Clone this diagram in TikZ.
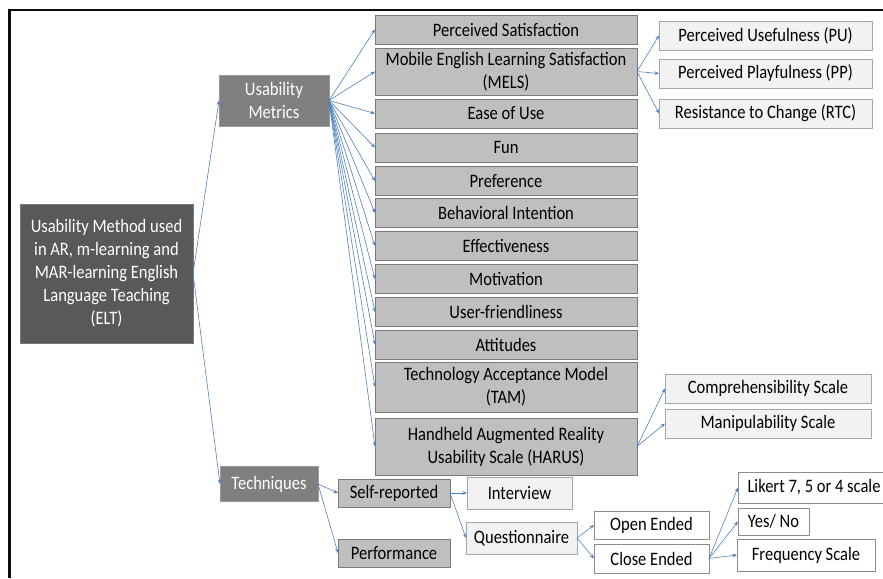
\documentclass[tikz,border=0pt]{standalone}
\usepackage{fontspec}
\setmainfont[FakeStretch=0.87]{Carlito}
\usetikzlibrary{arrows.meta}
\definecolor{rootc}{HTML}{595959}
\definecolor{midc}{HTML}{7F7F7F}
\definecolor{metc}{HTML}{BFBFBF}
\definecolor{metb}{HTML}{7A7A7A}
\definecolor{lightc}{HTML}{F2F2F2}
\definecolor{lightb}{HTML}{9EA8B4}
\definecolor{whiteb}{HTML}{8C8C8C}
\definecolor{arr}{HTML}{4F81BD}
\tikzset{
  base/.style={inner sep=0pt, outer sep=0pt, align=center, font=\fontsize{19}{23}\selectfont},
  rootbox/.style={base, fill=rootc, draw=rootc!80!white, text=white},
  darkbox/.style={base, fill=midc, draw=midc!80!white, text=white},
  metbox/.style={base, fill=metc, draw=metb, line width=0.8pt, text=black},
  lightbox/.style={base, fill=lightc, draw=lightb, line width=0.8pt, text=black},
  whitebox/.style={base, fill=white, draw=whiteb, line width=0.8pt, text=black},
  conn/.style={draw=arr, line width=0.6pt, -{Stealth[length=4.5pt,width=3.5pt]}},
  frameline/.style={draw=black!95, line width=2.5pt}
}
\begin{document}
\begin{tikzpicture}[x=1pt,y=-1pt]
\useasboundingbox (0,0) rectangle (883,578);
\coordinate (fa) at (9.5,578);
\coordinate (fb) at (9.5,10);
\coordinate (fc) at (885,10);
\draw[frameline] (fa) -- (fb) -- (fc);

% root and level 1
\node[rootbox, minimum width=173, minimum height=139] (root) at (106.5,273.5)
  {Usability Method used\\in AR, m-learning and\\MAR-learning English\\Language Teaching\\(ELT)};
\node[darkbox, minimum width=110, minimum height=51] (um) at (274,100.5) {Usability\\Metrics};
\node[darkbox, minimum width=98, minimum height=35] (tech) at (269,484) {Techniques};

% metrics
\node[metbox, minimum width=262, minimum height=29] (ps) at (506,29.5) {Perceived Satisfaction};
\node[metbox, minimum width=262, minimum height=47] (mels) at (506,71.5) {Mobile English Learning Satisfaction\\(MELS)};
\node[metbox, minimum width=262, minimum height=29] (eou) at (506,113.5) {Ease of Use};
\node[metbox, minimum width=262, minimum height=29] (fun) at (506,147.5) {Fun};
\node[metbox, minimum width=262, minimum height=29] (pref) at (506,181) {Preference};
\node[metbox, minimum width=262, minimum height=29] (bi) at (506,213) {Behavioral Intention};
\node[metbox, minimum width=262, minimum height=29] (eff) at (506,246) {Effectiveness};
\node[metbox, minimum width=262, minimum height=29] (mot) at (506,279) {Motivation};
\node[metbox, minimum width=262, minimum height=29] (uf) at (506,312) {User-friendliness};
\node[metbox, minimum width=262, minimum height=29] (att) at (506,344.5) {Attitudes};
\node[metbox, minimum width=262, minimum height=50] (tam) at (506,387) {Technology Acceptance Model\\(TAM)};
\node[metbox, minimum width=262, minimum height=57] (harus) at (506,446.5) {Handheld Augmented Reality\\Usability Scale (HARUS)};

% MELS children
\node[lightbox, minimum width=213, minimum height=29] (pu) at (765.5,35.5) {Perceived Usefulness (PU)};
\node[lightbox, minimum width=213, minimum height=29] (pp) at (765.5,73.5) {Perceived Playfulness (PP)};
\node[lightbox, minimum width=213, minimum height=29] (rtc) at (765.5,113.5) {Resistance to Change (RTC)};

% HARUS children
\node[lightbox, minimum width=206, minimum height=29] (comp) at (768,388.5) {Comprehensibility Scale};
\node[lightbox, minimum width=206, minimum height=29] (manip) at (768,423.5) {Manipulability Scale};

% techniques
\node[metbox, minimum width=112, minimum height=28] (self) at (394,493) {Self-reported};
\node[metbox, minimum width=112, minimum height=28] (perf) at (394,553) {Performance};
\node[lightbox, minimum width=105, minimum height=32] (intv) at (519.5,493) {Interview};
\node[lightbox, minimum width=111, minimum height=32] (quest) at (521.5,538) {Questionnaire};
\node[whitebox, minimum width=115, minimum height=28] (open) at (651.5,525) {Open Ended};
\node[whitebox, minimum width=115, minimum height=29] (close) at (651.5,558.5) {Close Ended};
\node[whitebox, minimum width=152, minimum height=31, anchor=west] (likert) at (738,487.5) {Likert 7, 5 or 4 scale};
\node[whitebox, minimum width=71, minimum height=27] (yn) at (773.5,521.5) {Yes/ No};
\node[whitebox, minimum width=138, minimum height=32] (freq) at (806,555) {Frequency Scale};

% connectors
\draw[conn] (root.east) -- (um.west);
\draw[conn] (root.east) -- (tech.west);
\foreach \m in {ps,mels,eou,fun,pref,bi,eff,mot,uf,att,tam,harus}
  \draw[conn] (um.east) -- (\m.west);
\foreach \m in {pu,pp,rtc}
  \draw[conn] (mels.east) -- (\m.west);
\foreach \m in {comp,manip}
  \draw[conn] (harus.east) -- (\m.west);
\draw[conn] (tech.east) -- (self.west);
\draw[conn] (tech.east) -- (perf.west);
\draw[conn] (self.east) -- (intv.west);
\draw[conn] (self.east) -- (quest.west);
\draw[conn] (quest.east) -- (open.west);
\draw[conn] (quest.east) -- (close.west);
\draw[conn] (close.east) -- (likert.west);
\draw[conn] (close.east) -- (yn.west);
\draw[conn] (close.east) -- (freq.west);
\end{tikzpicture}
\end{document}
